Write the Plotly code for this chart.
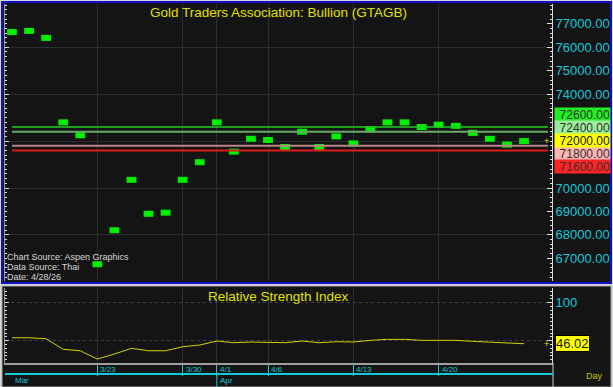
import plotly.graph_objects as go

# ---------------- data ----------------
dates = ["2026-03-16", "2026-03-17", "2026-03-18", "2026-03-19", "2026-03-20",
         "2026-03-23", "2026-03-24", "2026-03-25", "2026-03-26", "2026-03-27",
         "2026-03-30", "2026-03-31", "2026-04-01", "2026-04-02", "2026-04-03",
         "2026-04-06", "2026-04-07", "2026-04-08", "2026-04-09", "2026-04-10",
         "2026-04-13", "2026-04-14", "2026-04-15", "2026-04-16", "2026-04-17",
         "2026-04-20", "2026-04-21", "2026-04-22", "2026-04-23", "2026-04-24",
         "2026-04-27"]
prices = [76650, 76700, 76400, 72800, 72250,
          66750, 68200, 70350, 68900, 68950,
          70350, 71100, 72800, 71550, 72100,
          72050, 71750, 72400, 71750, 72200,
          71900, 72500, 72800, 72800, 72600,
          72700, 72650, 72350, 72100, 71850,
          72000]
rsi = [53.9, 53.9, 52.6, 38.7, 36.8,
       25.9, 32.5, 40.0, 36.8, 36.8,
       42.1, 44.3, 49.6, 47.4, 48.3,
       48.3, 47.4, 49.6, 47.4, 48.7,
       48.3, 50.5, 51.8, 51.8, 50.5,
       50.5, 50.5, 49.2, 48.3, 47.4,
       46.02]
tick_dates = ["2026-03-23", "2026-03-30", "2026-04-01", "2026-04-06", "2026-04-13", "2026-04-20"]
tick_labels = ["3/23", "3/30", "4/1", "4/6", "4/13", "4/20"]
month_dates = ["2026-03-16", "2026-04-01"]
month_labels = ["Mar", "Apr"]
price_ticks = [67000, 68000, 69000, 70000, 74000, 75000, 76000, 77000]
rsi_ticks = [50, 100]
rsi_ticktext = ["", "100"]
levels = [72600, 72400, 71800, 71600]
level_line_colors = ["#22cc22", "#6aa86a", "#b88484", "#e01818"]
level_line_widths = [1.5, 2, 2, 2]
level_box_colors = ["#22ee22", "#9cee9c", "#ffb4b4", "#ff2424"]
level_shifts = [12.5, 4.2, -7.7, -16]

title = "Gold Traders Association: Bullion (GTAGB)"
rsi_title = "Relative Strength Index"
notes = ["Chart Source: Aspen Graphics", "Data Source: Thai", "Date: 4/28/26"]

# ---------------- style ----------------
W, H = 613, 387
BG = "#141414"
GRID = "#2e2e2e"
CYAN = "#14c8d8"
YEL = "#e0e000"
FONT = "Arial, Liberation Sans, sans-serif"

def px(x):
    return x / W

def py(y):
    return 1 - y / H

xdom = [px(5), px(552)]
xr = [-0.41, 31.64]

fig = go.Figure()

fig.add_trace(go.Scatter(
    x=dates, y=prices, mode="markers", xaxis="x", yaxis="y",
    marker=dict(symbol="line-ew", size=7, line=dict(color="#00f000", width=6)),
    hoverinfo="skip", showlegend=False))
fig.add_trace(go.Scatter(x=dates, y=prices, mode="markers", xaxis="x", yaxis="y3",
                         marker=dict(opacity=0), hoverinfo="skip", showlegend=False))
fig.add_trace(go.Scatter(
    x=dates, y=rsi, mode="lines", xaxis="x2", yaxis="y2",
    line=dict(color="#d4d400", width=1), hoverinfo="skip", showlegend=False))
fig.add_trace(go.Scatter(x=dates, y=rsi, mode="markers", xaxis="x2", yaxis="y4",
                         marker=dict(opacity=0), hoverinfo="skip", showlegend=False))

shapes = [
    dict(type="rect", xref="paper", yref="paper", x0=px(2), x1=px(611), y0=py(283), y1=py(2),
         fillcolor=BG, line=dict(color="#1010c8", width=2), layer="below"),
    dict(type="rect", xref="paper", yref="paper", x0=px(2), x1=px(611), y0=py(387), y1=py(286),
         fillcolor=BG, line=dict(color="#a8a8a8", width=1), layer="below"),
    dict(type="line", xref="paper", yref="paper", x0=px(553), x1=px(553), y0=py(387), y1=py(363),
         line=dict(color="#d0d0d0", width=1)),
    dict(type="line", xref="paper", yref="paper", x0=px(5), x1=px(553), y0=py(374), y1=py(374),
         line=dict(color=CYAN, width=2)),
]
for d in month_dates[1:]:
    shapes.append(dict(type="line", xref="x2", yref="paper", x0=d, x1=d, y0=py(387), y1=py(374),
                       line=dict(color=CYAN, width=1)))
for v, c, w in zip(levels, level_line_colors, level_line_widths):
    shapes.append(dict(type="line", xref="x domain", yref="y", x0=7 / 547, x1=543 / 547,
                       y0=v, y1=v, line=dict(color=c, width=w), layer="above"))

annotations = [
    dict(text=title, xref="paper", yref="paper", x=px(278.5), y=py(12), showarrow=False,
         xanchor="center", yanchor="middle", font=dict(family=FONT, size=13.5, color=YEL)),
    dict(text=rsi_title, xref="paper", yref="paper", x=px(278.5), y=py(296), showarrow=False,
         xanchor="center", yanchor="middle", font=dict(family=FONT, size=13.5, color=YEL)),
    dict(text="Day", xref="paper", yref="paper", x=px(594), y=py(376), showarrow=False,
         xanchor="center", yanchor="middle", font=dict(family=FONT, size=9, color="#c8c800")),
]
for i, t in enumerate(notes):
    annotations.append(dict(text=t, xref="paper", yref="paper", x=px(5), y=py(257 + 10 * i),
                            showarrow=False, xanchor="left", yanchor="middle",
                            font=dict(family=FONT, size=9, color="#d8d8d8")))
for d, t in zip(tick_dates, tick_labels):
    annotations.append(dict(text=t, xref="x2", yref="paper", x=d, y=py(369.5), xshift=1,
                            showarrow=False, xanchor="left", yanchor="middle",
                            font=dict(family=FONT, size=8, color=CYAN)))
for d, t in zip(month_dates, month_labels):
    annotations.append(dict(text=t, xref="x2", yref="paper", x=d, y=py(380), xshift=1,
                            showarrow=False, xanchor="left", yanchor="middle",
                            font=dict(family=FONT, size=8, color=CYAN)))
for v, c, s in zip(levels, level_box_colors, level_shifts):
    annotations.append(dict(text=f"{v:.2f}", xref="paper", yref="y", x=px(554), y=v, yshift=s,
                            showarrow=False, xanchor="left", yanchor="middle", bgcolor=c,
                            width=55, height=13, borderpad=0, align="right",
                            font=dict(family=FONT, size=12, color="#303030")))
annotations.append(dict(text=f"{prices[-1]:.2f}", xref="paper", yref="y", x=px(554), y=prices[-1],
                        yshift=0.6, showarrow=False, xanchor="left", yanchor="middle",
                        bgcolor="#ffff00", width=55, height=13, borderpad=0, align="right",
                        font=dict(family=FONT, size=12, color="#202020")))
annotations.append(dict(text="+", xref="paper", yref="y", x=px(546), y=prices[-1], showarrow=False,
                        xanchor="center", yanchor="middle", font=dict(family=FONT, size=9, color=YEL)))
annotations.append(dict(text=f"{rsi[-1]:.2f}", xref="paper", yref="y2", x=px(555), y=rsi[-1],
                        showarrow=False, xanchor="left", yanchor="middle", bgcolor="#ffff00",
                        bordercolor="#000000", borderwidth=1, borderpad=0,
                        font=dict(family=FONT, size=13, color="#202020")))
annotations.append(dict(text="+", xref="paper", yref="y2", x=px(546), y=rsi[-1], showarrow=False,
                        xanchor="center", yanchor="middle", font=dict(family=FONT, size=9, color=YEL)))

fig.update_layout(
    width=W, height=H, margin=dict(l=0, r=0, t=0, b=0),
    paper_bgcolor="#d8d8d8", plot_bgcolor="rgba(0,0,0,0)",
    showlegend=False, shapes=shapes, annotations=annotations,
    font=dict(family=FONT),
    xaxis=dict(domain=xdom, anchor="y", type="category", range=xr,
               tickvals=tick_dates, showticklabels=False, ticks="",
               showgrid=True, gridcolor=GRID, gridwidth=1, zeroline=False, showline=False),
    yaxis=dict(domain=[py(281), py(4)], anchor="x", side="right", range=[66035, 77846],
               tickvals=price_ticks, tickformat=".2f",
               tickfont=dict(family=FONT, size=13, color=CYAN),
               ticks="inside", ticklen=5, tickcolor="#e0e0e0", showgrid=False,
               showline=True, linecolor="#d8d8d8", linewidth=1, zeroline=False,
               minor=dict(dtick=200, tick0=0, ticks="inside", ticklen=2, tickcolor="#e0e0e0",
                          showgrid=False)),
    yaxis3=dict(overlaying="y", anchor="x", side="left", range=[66035, 77846],
                dtick=2000, tick0=0, showticklabels=False, ticks="inside", ticklen=4,
                tickcolor="#e0e0e0", showgrid=True, gridcolor=GRID, zeroline=False,
                showline=True, linecolor="#9a9a9a", linewidth=1,
                minor=dict(dtick=200, tick0=0, ticks="inside", ticklen=2, tickcolor="#e0e0e0",
                           showgrid=False)),
    xaxis2=dict(domain=xdom, anchor="y2", type="category", range=xr,
                tickvals=tick_dates, showticklabels=False,
                ticks="outside", ticklen=11, tickcolor=CYAN, tickwidth=1,
                showgrid=True, gridcolor=GRID, zeroline=False,
                showline=True, linecolor="#a0a0a0", linewidth=2),
    yaxis2=dict(domain=[py(363), py(288)], anchor="x2", side="right", range=[20.7, 119.3],
                tickvals=rsi_ticks, ticktext=rsi_ticktext,
                tickfont=dict(family=FONT, size=13, color=CYAN),
                ticks="inside", ticklen=5, tickcolor="#e0e0e0",
                showgrid=True, gridcolor="#444444", griddash="dot", zeroline=False,
                showline=True, linecolor="#d8d8d8", linewidth=1,
                minor=dict(dtick=5, tick0=0, ticks="inside", ticklen=2, tickcolor="#e0e0e0",
                           showgrid=False)),
    yaxis4=dict(overlaying="y2", anchor="x2", side="left", range=[20.7, 119.3],
                dtick=50, showticklabels=False, ticks="inside", ticklen=4, tickcolor="#e0e0e0",
                showgrid=False, zeroline=False, showline=True, linecolor="#9a9a9a",
                minor=dict(dtick=5, tick0=0, ticks="inside", ticklen=2, tickcolor="#e0e0e0",
                           showgrid=False)),
)

fig.write_html("out.html")
